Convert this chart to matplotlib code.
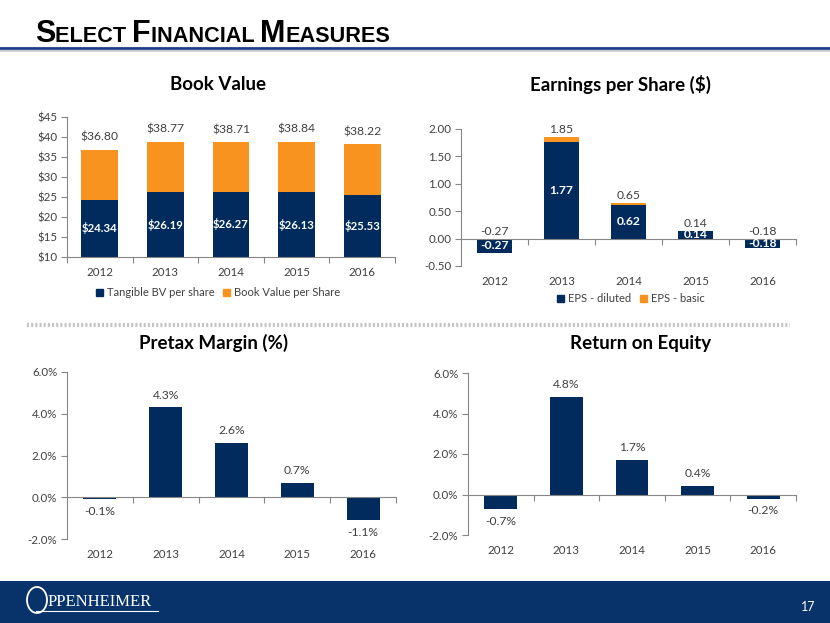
import matplotlib
matplotlib.use('Agg')
import matplotlib.pyplot as plt
import matplotlib.transforms as mtransforms
from matplotlib.patches import Rectangle, Ellipse, Patch
from matplotlib.lines import Line2D

# ---------------- data ----------------
years = ['2012', '2013', '2014', '2015', '2016']
tangible_bv = [24.34, 26.19, 26.27, 26.13, 25.53]
book_value = [36.80, 38.77, 38.71, 38.84, 38.22]
eps_diluted = [-0.27, 1.77, 0.62, 0.14, -0.18]
eps_basic = [-0.27, 1.85, 0.65, 0.14, -0.18]
pretax_margin = [-0.1, 4.3, 2.6, 0.7, -1.1]
roe = [-0.7, 4.8, 1.7, 0.4, -0.2]

bv_ticks = [10, 15, 20, 25, 30, 35, 40, 45]
eps_ticks = [-0.5, 0.0, 0.5, 1.0, 1.5, 2.0]
pct_ticks = [-2.0, 0.0, 2.0, 4.0, 6.0]

NAVY = '#002B5C'
ORANGE = '#F7931E'
GRAY = '#868686'
TXT = '#404040'
TICK_FS = 8.3
VAL_FS = 8.2
IN_FS = 8.2
LEG_FS = 8.0

plt.rcParams['font.family'] = ['Lato', 'DejaVu Sans']

W, H = 830, 623
fig = plt.figure(figsize=(8.3, 6.23), dpi=100)


def fx(px):
    return px / W


def fy(py):
    return 1 - py / H


def make_ax(x0, x1, y0, y1):
    return fig.add_axes([fx(x0), fy(y1), fx(x1 - x0), (y1 - y0) / H])


def style_ax(ax, yticks, fmt, zero_axis=True):
    x = list(range(len(years)))
    ax.set_xlim(-0.5, len(years) - 0.5)
    ax.set_ylim(yticks[0], yticks[-1])
    ax.set_yticks(yticks)
    ax.set_yticklabels([fmt(v) for v in yticks])
    for s in ['top', 'right']:
        ax.spines[s].set_visible(False)
    for s in ['left', 'bottom']:
        ax.spines[s].set_color(GRAY)
        ax.spines[s].set_linewidth(0.8)
    ax.tick_params(axis='y', colors=GRAY, labelcolor=TXT, labelsize=TICK_FS,
                   length=4, width=0.8, direction='out', pad=3)
    ax.set_xticks([i + 0.5 for i in x[:-1]] + [-0.5, len(years) - 0.5], minor=True)
    ax.tick_params(axis='x', which='minor', colors=GRAY, length=4, width=0.8,
                   direction='out')
    if zero_axis:
        ax.spines['bottom'].set_position(('data', 0))
        ax.set_xticks([])
        ax.set_xticks([i + 0.5 for i in x[:-1]] + [len(years) - 0.5], minor=True)
        trans = mtransforms.blended_transform_factory(ax.transData, ax.transAxes)
        for i, yr in enumerate(years):
            ax.annotate(yr, xy=(i, 0), xycoords=trans, xytext=(0, -7),
                        textcoords='offset points', ha='center', va='top',
                        fontsize=TICK_FS, color=TXT)
    else:
        ax.set_xticks(x)
        ax.set_xticklabels(years)
        ax.tick_params(axis='x', which='major', length=0, labelsize=TICK_FS,
                       labelcolor=TXT, pad=7)


x = list(range(len(years)))

# ---------------- Book Value ----------------
ax1 = make_ax(67, 395, 117, 257)
upper = [b - t for b, t in zip(book_value, tangible_bv)]
base = bv_ticks[0]
ax1.bar(x, [t - base for t in tangible_bv], bottom=base, width=0.56, color=NAVY,
        zorder=2)
ax1.bar(x, upper, bottom=tangible_bv, width=0.56, color=ORANGE, zorder=2)
style_ax(ax1, bv_ticks, lambda v: f'${v:.0f}', zero_axis=False)
for i in x:
    ax1.text(i, (base + tangible_bv[i]) / 2, f'${tangible_bv[i]:.2f}', ha='center',
             va='center', color='white', fontsize=IN_FS, fontweight='bold')
    ax1.annotate(f'${book_value[i]:.2f}', xy=(i, book_value[i]), xytext=(0, 5),
                 textcoords='offset points', ha='center', va='bottom',
                 fontsize=VAL_FS + 0.5, color=TXT)
fig.text(fx(218), fy(84), 'Book Value', ha='center', va='center',
         fontsize=13.5, fontweight='bold', color='black')
fig.legend(handles=[Patch(color=NAVY, label='Tangible BV per share'),
                    Patch(color=ORANGE, label='Book Value per Share')],
           loc='center', bbox_to_anchor=(fx(218), fy(293)), ncol=2, frameon=False,
           fontsize=LEG_FS, handlelength=0.65, handleheight=0.65, handletextpad=0.35,
           columnspacing=0.8, labelcolor=TXT, borderpad=0)

# ---------------- EPS ----------------
ax2 = make_ax(461, 796, 129, 266)
extra = [max(b - d, 0) for b, d in zip(eps_basic, eps_diluted)]
ax2.bar(x, eps_diluted, width=0.51, color=NAVY, zorder=2)
ax2.bar(x, extra, bottom=eps_diluted, width=0.51, color=ORANGE, zorder=2)
style_ax(ax2, eps_ticks, lambda v: f'{v:.2f}')
for i in x:
    ax2.text(i, eps_diluted[i] / 2, f'{eps_diluted[i]:.2f}', ha='center',
             va='center', color='white', fontsize=IN_FS + 0.5, fontweight='bold',
             zorder=3)
    top = max(eps_basic[i], 0)
    ax2.annotate(f'{eps_basic[i]:.2f}', xy=(i, top), xytext=(0, 1.5),
                 textcoords='offset points', ha='center', va='bottom',
                 fontsize=VAL_FS + 0.5, color=TXT)
fig.text(fx(620), fy(84), 'Earnings per Share ($)', ha='center', va='center',
         fontsize=13.5, fontweight='bold', color='black')
fig.legend(handles=[Patch(color=NAVY, label='EPS - diluted'),
                    Patch(color=ORANGE, label='EPS - basic')],
           loc='center', bbox_to_anchor=(fx(631), fy(299)), ncol=2, frameon=False,
           fontsize=LEG_FS, handlelength=0.65, handleheight=0.65, handletextpad=0.35,
           columnspacing=0.8, labelcolor=TXT, borderpad=0)


# ---------------- Pretax margin / ROE ----------------
def pct_chart(ax, vals, title, tx):
    ax.bar(x, vals, width=0.5, color=NAVY, zorder=2)
    style_ax(ax, pct_ticks, lambda v: f'{v:.1f}%')
    for i, v in enumerate(vals):
        if v >= 0:
            ax.annotate(f'{v:.1f}%', xy=(i, v), xytext=(0, 5),
                        textcoords='offset points', ha='center', va='bottom',
                        fontsize=VAL_FS + 0.5, color=TXT)
        else:
            ax.annotate(f'{v:.1f}%', xy=(i, v), xytext=(0, -5),
                        textcoords='offset points', ha='center', va='top',
                        fontsize=VAL_FS + 0.5, color=TXT)
    fig.text(fx(tx), fy(343), title, ha='center', va='center',
             fontsize=13.5, fontweight='bold', color='black')


ax3 = make_ax(67, 396, 372, 539)
pct_chart(ax3, pretax_margin, 'Pretax Margin (%)', 214)
ax4 = make_ax(468, 796, 373, 535)
pct_chart(ax4, roe, 'Return on Equity', 641)

# ---------------- decorations ----------------
fig.add_artist(Line2D([0, 1], [fy(50.5), fy(50.5)], color='#C8C8C8', lw=1.2,
                      transform=fig.transFigure))
fig.add_artist(Line2D([0, 1], [fy(48), fy(48)], color='#1F3F8A', lw=2.0,
                      transform=fig.transFigure))
fig.add_artist(Line2D([fx(27), fx(790)], [fy(325), fy(325)], color='#C4C4C4',
                      lw=3, linestyle=(0, (0.5, 0.5)), transform=fig.transFigure))

fig.add_artist(Rectangle((0, 0), 1, fy(581), transform=fig.transFigure,
                         facecolor='#08336A', edgecolor='none'))
fig.add_artist(Ellipse((fx(37), fy(600)), fx(20), 26 / H, transform=fig.transFigure,
                       facecolor='none', edgecolor='white', lw=1.3))
fig.text(fx(48), fy(606), 'PPENHEIMER', ha='left', va='baseline', fontsize=12,
         color='white', family=['Liberation Serif', 'DejaVu Serif'])
fig.add_artist(Line2D([fx(36), fx(158)], [fy(611), fy(611)], color='white', lw=0.8,
                      transform=fig.transFigure))
fig.text(fx(808), fy(607), '17', ha='center', va='center', fontsize=9, color='white')

# ---------------- title (small caps) ----------------
renderer = fig.canvas.get_renderer()
pieces = [('S', 22), ('ELECT ', 15.6), ('F', 22), ('INANCIAL ', 15.6), ('M', 22),
          ('EASURES', 15.6)]
xpos = 35
for s, size in pieces:
    t = fig.text(fx(xpos), fy(42), s, ha='left', va='baseline', fontsize=size,
                 fontweight='bold', color='black',
                 family=['Liberation Sans', 'DejaVu Sans'])
    bb = t.get_window_extent(renderer=renderer)
    xpos += bb.width

fig.savefig('out.png', dpi=100)
